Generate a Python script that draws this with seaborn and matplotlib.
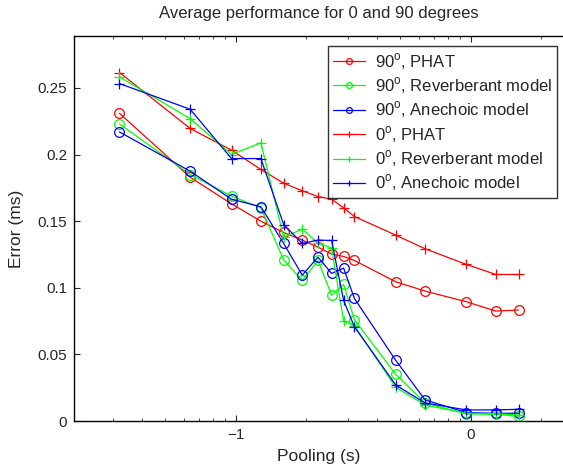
import numpy as np
import pandas as pd
import matplotlib
matplotlib.use("Agg")
import matplotlib.pyplot as plt
from matplotlib.ticker import FixedLocator, LogLocator, NullFormatter
import seaborn as sns

# pooling length in seconds (multiples of a 32 ms frame)
pooling = [0.032, 0.064, 0.096, 0.128, 0.16, 0.192, 0.224, 0.256, 0.288, 0.32,
           0.48, 0.64, 0.96, 1.28, 1.6]

err_90_phat = [0.231, 0.183, 0.163, 0.150, 0.1415, 0.1358, 0.1305, 0.1253, 0.1235, 0.1205,
               0.1045, 0.0975, 0.0895, 0.0825, 0.0833]
err_90_reverb = [0.223, 0.185, 0.1688, 0.160, 0.121, 0.1055, 0.1205, 0.0945, 0.1025, 0.076,
                 0.035, 0.0135, 0.0053, 0.005, 0.0035]
err_90_anech = [0.217, 0.1875, 0.1665, 0.1608, 0.1333, 0.1095, 0.123, 0.1108, 0.1148, 0.092,
                0.0455, 0.0158, 0.0063, 0.0058, 0.0058]
err_0_phat = [0.2616, 0.2196, 0.2033, 0.1888, 0.1785, 0.1728, 0.1685, 0.1665, 0.160, 0.1535,
              0.1395, 0.1293, 0.1175, 0.110, 0.110]
err_0_reverb = [0.2583, 0.227, 0.200, 0.2088, 0.138, 0.144, 0.1335, 0.130, 0.075, 0.0715,
                0.0253, 0.012, 0.0058, 0.0055, 0.0045]
err_0_anech = [0.2533, 0.234, 0.197, 0.197, 0.1475, 0.1333, 0.1358, 0.1355, 0.0905, 0.0708,
               0.027, 0.0135, 0.0083, 0.0083, 0.0088]

series = [
    ("90$^{\\mathrm{o}}$, PHAT", err_90_phat, "#ff0000", "o"),
    ("90$^{\\mathrm{o}}$, Reverberant model", err_90_reverb, "#00ff00", "o"),
    ("90$^{\\mathrm{o}}$, Anechoic model", err_90_anech, "#0000ff", "o"),
    ("0$^{\\mathrm{o}}$, PHAT", err_0_phat, "#ff0000", "+"),
    ("0$^{\\mathrm{o}}$, Reverberant model", err_0_reverb, "#00ff00", "+"),
    ("0$^{\\mathrm{o}}$, Anechoic model", err_0_anech, "#0000ff", "+"),
]

sns.set_style("ticks")
plt.rcParams["font.family"] = ["Liberation Sans", "DejaVu Sans"]
plt.rcParams["mathtext.fontset"] = "custom"
plt.rcParams["mathtext.rm"] = "Liberation Sans"

fig = plt.figure(figsize=(5.63, 4.69), dpi=100)
ax = fig.add_axes([74 / 563, 1 - 421 / 469, 1.002 - 74 / 563, (421 - 36) / 469])

for label, vals, color, mk in series:
    df = pd.DataFrame({"pooling": pooling, "error": vals})
    sns.lineplot(data=df, x="pooling", y="error", ax=ax, color=color, marker=mk,
                 markersize=7, markerfacecolor="none", markeredgecolor=color,
                 markeredgewidth=0.9, linewidth=0.9, label=label)

ax.set_xscale("log")
ax.set_xlim(0.0205, 2.5)
ax.set_ylim(0, 0.289)
ax.xaxis.set_major_locator(FixedLocator([0.1, 1.0]))
ax.set_xticklabels(["\u22121", "0"])
ax.xaxis.set_minor_locator(LogLocator(base=10, subs=np.arange(2, 10)))
ax.xaxis.set_minor_formatter(NullFormatter())
ax.set_yticks([0, 0.05, 0.1, 0.15, 0.2, 0.25])
ax.set_yticklabels(["0", "0.05", "0.1", "0.15", "0.2", "0.25"])
ax.tick_params(which="both", direction="in", top=True, right=False, labelsize=11)
ax.tick_params(which="major", length=4, pad=5)
ax.tick_params(which="minor", length=2.5)
for s in ax.spines.values():
    s.set_linewidth(1.0)
    s.set_color("black")
ax.spines["right"].set_visible(False)

ax.set_xlabel("Pooling (s)", fontsize=12.5, labelpad=5)
ax.set_ylabel("Error (ms)", fontsize=12.5, labelpad=10)
ax.set_title("Average performance for 0 and 90 degrees", fontsize=12, pad=13)

leg = ax.legend(loc="upper right", bbox_to_anchor=(0.993, 0.983), fontsize=12,
                frameon=True, fancybox=False, edgecolor="black", handlelength=1.9,
                handletextpad=0.6, borderpad=0.3, labelspacing=0.22, markerscale=0.6,
                borderaxespad=0.2)
leg.get_frame().set_linewidth(1.0)

fig.savefig("out.png", dpi=100)
